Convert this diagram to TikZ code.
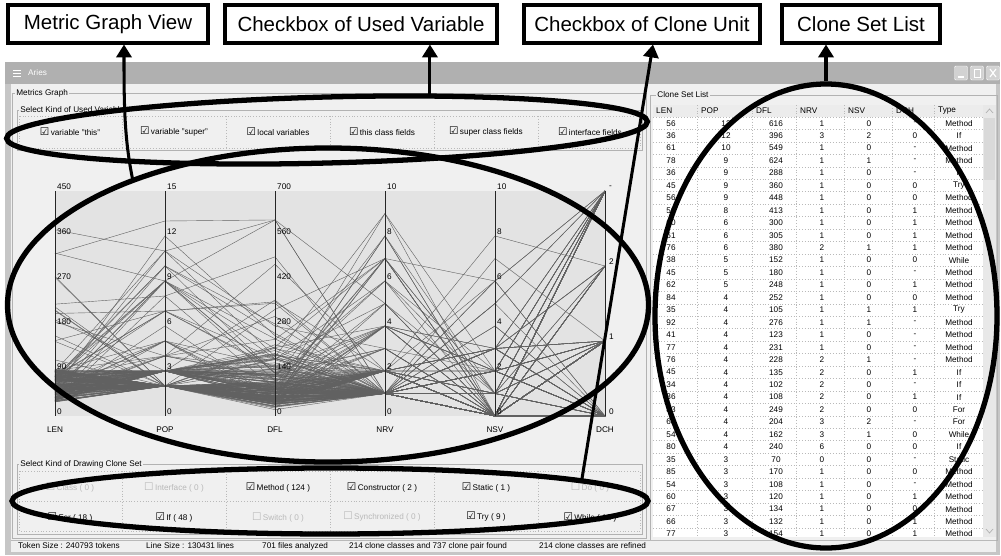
\documentclass[tikz,border=0pt]{standalone}
\usepackage{fontspec}
\setmainfont{Liberation Sans}
\newfontfamily\boxfont{DejaVu Sans}
\usetikzlibrary{shapes.geometric,arrows.meta,calc}

\newcommand\chkon{{\boxfont\fontsize{9}{9}\selectfont ☑}}
\newcommand\chkoff{{\boxfont\fontsize{9}{9}\selectfont ☐}}

\tikzset{
    callout/.style={draw, line width=2.6pt, fill=white, minimum height=1.14cm, inner sep=0pt,
        font=\fontsize{17.5}{20}\selectfont},
    ring/.style={ellipse, draw, line width=4.5pt, inner sep=0pt},
    pointer/.style={line width=2.6pt, -{Triangle[width=13pt,length=11pt]}},
    small/.style={font=\fontsize{7}{8}\selectfont, inner sep=0pt},
    grouptitle/.style={small, fill=gray!12, inner xsep=1pt, anchor=west},
    ticked/.style={small, execute at begin node={\chkon\,}},
    unticked/.style={small, text=gray!55, execute at begin node={\chkoff\,}},
    tick/.style={small, anchor=west},
    frame/.style={draw=gray!60, line width=0.5pt},
    cellline/.style={gray!55, dotted, line width=0.4pt},
    plotline/.style={black!62, line width=0.35pt},
    axisline/.style={gray!30!black, line width=0.7pt},
    winbtn/.style={draw=white, fill=gray!35, rounded corners=1pt, minimum width=0.39cm,
        minimum height=0.42cm, inner sep=0pt},
}

\begin{document}
\begin{tikzpicture}[x=0.03cm, y=-0.03cm]
    \useasboundingbox (0,0) rectangle (1001,555);

    % window
    \fill[gray!12] (5,62) rectangle (1000,555);
    \fill[gray!62] (5,62) rectangle (1000,84);
    \fill[gray!45] (5,84) rectangle (11,555);
    \fill[gray!45] (996,84) rectangle (1000,555);
    \fill[gray!45] (5,552) rectangle (1000,555);
    \draw[white, line width=0.6pt] (13,70) -- (21,70) (13,73) -- (21,73) (13,76) -- (21,76);
    \node[small, text=white, anchor=west] (title) at (28,73) {Aries};
    \node[winbtn] (bmin) at (961,73) {};
    \node[winbtn] (bmax) at (977,73) {};
    \node[winbtn] (bclose) at (993,73) {};
    \draw[white, line width=1pt] (958,77) -- (964,77);
    \draw[white, line width=0.7pt] (974,69) rectangle (980,77);
    \draw[white, line width=1pt] (990,69) -- (996,77) (990,77) -- (996,69);

    % metrics graph pane
    \draw[frame] (12,93) rectangle (646,538);
    \node[grouptitle] (mgraph) at (15,93) {Metrics Graph};

    \draw[frame] (17,110) rectangle (642,150);
    \node[grouptitle] (selvar) at (19,110) {Select Kind of Used Variables};
    \draw[cellline] (19,116) rectangle (640,148);
    \foreach \i in {1,...,5}
        \draw[cellline] ({18+104*\i},116) -- ({18+104*\i},148);
    \foreach \txt [count=\i] in {variable "this", variable "super", local variables,
            this class fields, super class fields, interface fields}
        \node[ticked] (var\i) at ({-34+104*\i},132) {\txt};

    % parallel plot
    \fill[gray!22] (55,191) rectangle (605,416);
    \pgfmathsetseed{11}
    \foreach \k in {1,...,230}{
        \pgfmathsetmacro\vlen{28+65*rnd+(rnd<0.1)*330*rnd}
        \pgfmathsetmacro\vpop{int(2+1.6*rnd)+(rnd<0.18)*int(1+10*rnd)}
        \pgfmathsetmacro\vdfl{min(610,\vlen*(\vpop-1)*(0.7+0.5*rnd)*(\vpop<5 ? 1 : 0.4))}
        \pgfmathsetmacro\vnrv{min(10,int(1+1.4*rnd)+(rnd<0.22)*int(1+7*rnd))}
        \pgfmathsetmacro\vnsv{(rnd<0.35)*int(1+2.5*rnd)+(rnd<0.05)*int(1+6*rnd)}
        \pgfmathsetmacro\r{rnd}
        \pgfmathsetmacro\vdch{(\r>0.45)+(\r>0.72)+(\r>0.78)}
        \draw[plotline] (55,{416-\vlen/2}) -- (165,{416-15*\vpop}) -- (275,{416-\vdfl*0.3214})
            -- (385,{416-22.5*\vnrv}) -- (495,{416-22.5*\vnsv}) -- (605,{416-75*\vdch});
    }
    \foreach \nm [count=\i from 0] in {LEN,POP,DFL,NRV,NSV,DCH}{
        \draw[axisline] ({55+110*\i},191) -- ({55+110*\i},416);
        \node[small] (ax\nm) at ({55+110*\i},430) {\nm};
    }
    \foreach \xa/\s in {57/90, 167/3, 277/140, 387/2, 497/2}
        \foreach \j in {0,...,5}{
            \pgfmathtruncatemacro\v{\s*\j}
            \node[tick] (tk\xa-\j) at (\xa,{412-45*\j}) {\v};
        }
    \foreach \t [count=\j from 0] in {0,1,2,-}
        \node[tick] (tkdch-\j) at (609,{412-75*\j}) {\t};

    % clone unit checkboxes
    \draw[frame] (17,464) rectangle (642,534);
    \node[grouptitle] (selunit) at (19,464) {Select Kind of Drawing Clone Set};
    \draw[cellline] (19,471) rectangle (640,531);
    \draw[cellline] (19,501) -- (640,501);
    \foreach \i in {1,...,5}
        \draw[cellline] ({18+104*\i},471) -- ({18+104*\i},531);
    \foreach \st/\txt [count=\i] in {unticked/Class ( 0 ), unticked/Interface ( 0 ),
            ticked/Method ( 124 ), ticked/Constructor ( 2 ), ticked/Static ( 1 ), unticked/Do ( 0 )}
        \node[\st] (ua\i) at ({-34+104*\i},487) {\txt};
    \foreach \st/\txt [count=\i] in {ticked/For ( 18 ), ticked/If ( 48 ), unticked/Switch ( 0 ),
            unticked/Synchronized ( 0 ), ticked/Try ( 9 ), ticked/While ( 12 )}
        \node[\st] (ub\i) at ({-34+104*\i},517) {\txt};

    % clone set list
    \draw[frame] (650,95) rectangle (997,540);
    \node[grouptitle] (clist) at (656,95) {Clone Set List};
    \fill[white] (653,105) rectangle (983,537);
    \fill[gray!15] (653,105) rectangle (983,117);
    \fill[gray!18] (983,105) rectangle (996,537);
    \fill[gray!30] (984,118) rectangle (995,180);
    \draw[gray!60, line width=0.6pt] (986,113) -- (989.5,109) -- (993,113);
    \draw[gray!60, line width=0.6pt] (986,529) -- (989.5,533) -- (993,529);
    \begin{scope}
        \clip (653,105) rectangle (983,537);
        \foreach \nm/\xa in {LEN/656, POP/701, DFL/756, NRV/800, NSV/848, DCH/896, Type/938}
            \node[tick] (hd\nm) at (\xa,111) {\nm};
        \foreach \r in {0,...,34}
            \draw[cellline] (653,{117+12.45*\r}) -- (983,{117+12.45*\r});
        \foreach \xa in {697,752,796,844,892,934}
            \draw[cellline] (\xa,105) -- (\xa,537);
        \foreach \a/\b/\c/\d/\e/\f/\g [count=\r] in {
                56/12/616/1/0/-/Method, 36/12/396/3/2/0/If, 61/10/549/1/0/-/Method,
                78/9/624/1/1/-/Method, 36/9/288/1/0/-/If, 45/9/360/1/0/0/Try,
                56/9/448/1/0/0/Method, 59/8/413/1/0/1/Method, 60/6/300/1/0/1/Method,
                61/6/305/1/0/1/Method, 76/6/380/2/1/1/Method, 38/5/152/1/0/0/While,
                45/5/180/1/0/-/Method, 62/5/248/1/0/1/Method, 84/4/252/1/0/0/Method,
                35/4/105/1/1/1/Try, 92/4/276/1/1/-/Method, 41/4/123/1/0/-/Method,
                77/4/231/1/0/-/Method, 76/4/228/2/1/-/Method, 45/4/135/2/0/1/If,
                34/4/102/2/0/-/If, 36/4/108/2/0/1/If, 83/4/249/2/0/0/For,
                68/4/204/3/2/-/For, 54/4/162/3/1/0/While, 80/4/240/6/0/0/If,
                35/3/70/0/0/-/Static, 85/3/170/1/0/0/Method, 54/3/108/1/0/-/Method,
                60/3/120/1/0/1/Method, 67/3/134/1/0/0/Method, 66/3/132/1/0/1/Method,
                77/3/154/1/0/1/Method}{
            \pgfmathsetmacro\yr{123.2+12.45*(\r-1)}
            \node[small] (len\r) at (671,\yr) {\a};
            \node[small] (pop\r) at (726,\yr) {\b};
            \node[small] (dfl\r) at (776,\yr) {\c};
            \node[small] (nrv\r) at (822,\yr) {\d};
            \node[small] (nsv\r) at (869,\yr) {\e};
            \node[small] (dch\r) at (915,\yr) {\f};
            \node[small] (typ\r) at (959,\yr) {\g};
        }
    \end{scope}

    % status bar
    \draw[gray!55, line width=0.4pt] (11,540) -- (996,540);
    \node[tick] (st1) at (18,546) {Token Size : 240793 tokens};
    \node[tick] (st2) at (146,546) {Line Size : 130431 lines};
    \node[tick] (st3) at (262,546) {701 files analyzed};
    \node[tick] (st4) at (349,546) {214 clone classes and 737 clone pair found};
    \node[tick] (st5) at (539,546) {214 clone classes are refined};

    % annotations
    \node[ring, minimum width=19.23cm, minimum height=1.98cm, rotate=1.5] (varell) at (327,130) {};
    \node[ring, minimum width=19.23cm, minimum height=9.42cm] (graphell) at (328,305) {};
    \node[ring, minimum width=19.08cm, minimum height=1.98cm] (unitell) at (330,501) {};
    \node[ring, minimum width=10.26cm, minimum height=13.92cm] (listell) at (826,316) {};

    \node[callout, minimum width=6cm] (lblgraph) at (108,24) {Metric Graph View};
    \node[callout, minimum width=8.16cm] (lblvar) at (361,24) {Checkbox of Used Variable};
    \node[callout, minimum width=7.08cm] (lblunit) at (642,24) {Checkbox of Clone Unit};
    \node[callout, minimum width=4.74cm] (lbllist) at (861,24) {Clone Set List};

    \draw[pointer] (graphell.147) .. controls +(-8,-40) and +(0,60) .. ([xshift=0.48cm]lblgraph.south);
    \draw[pointer] (varell.18) -- (varell.18 |- lblvar.south);
    \draw[pointer] (unitell.5) -- ([xshift=0.33cm]lblunit.south);
    \draw[pointer] (listell.north) -- (listell.north |- lbllist.south);
\end{tikzpicture}
\end{document}
